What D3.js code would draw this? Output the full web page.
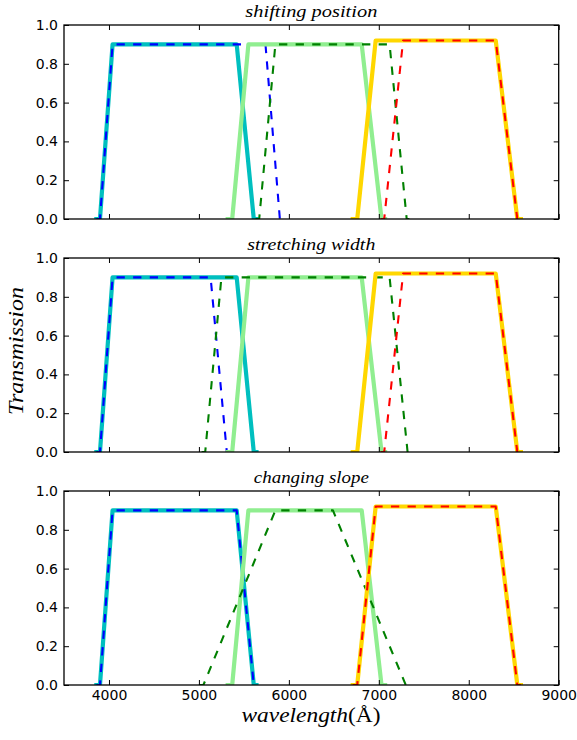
<!DOCTYPE html>
<html>
<head>
<meta charset="utf-8">
<script src="https://cdn.jsdelivr.net/npm/d3@7"></script>
<style>
  body { margin: 0; background: #fff; }
  svg { display: block; }
  .tick line { stroke: #000; stroke-width: 1; }
</style>
</head>
<body>
<svg width="577" height="740"></svg>
<script>
const panelTitles = ["shifting position", "stretching width", "changing slope"];
const xTicks = [4000, 5000, 6000, 7000, 8000, 9000];
const yTicks = [0, 0.2, 0.4, 0.6, 0.8, 1.0];

// reference filters (solid lines, same in every panel)
const blueRefWave = [3860, 3900, 4040, 5420, 5610, 5640];
const blueRefTrans = [0, 0, 0.9, 0.9, 0, 0];
const greenRefWave = [5320, 5370, 5550, 6810, 7030, 7070];
const greenRefTrans = [0, 0, 0.9, 0.9, 0, 0];
const redRefWave = [6710, 6760, 6965, 8300, 8540, 8580];
const redRefTrans = [0, 0, 0.92, 0.92, 0, 0];

// modified filters (dashed lines)
const shiftBlueWave = [3860, 3900, 4040, 5740, 5900, 5930];
const shiftGreenWave = [5630, 5670, 5850, 7120, 7310, 7340];
const shiftRedWave = [7020, 7060, 7270, 8300, 8540, 8580];
const stretchBlueWave = [3860, 3900, 4040, 5130, 5310, 5340];
const stretchGreenWave = [5030, 5070, 5250, 7120, 7320, 7350];
const stretchRedWave = [7020, 7060, 7270, 8300, 8540, 8580];
const slopeBlueWave = [3860, 3900, 4040, 5420, 5610, 5640];
const slopeGreenWave = [5000, 5050, 5850, 6490, 7300, 7350];
const slopeRedWave = [6710, 6760, 6965, 8300, 8540, 8580];

const dashedWaves = [
  [shiftBlueWave, shiftGreenWave, shiftRedWave],
  [stretchBlueWave, stretchGreenWave, stretchRedWave],
  [slopeBlueWave, slopeGreenWave, slopeRedWave]
];

const svg = d3.select("svg");
const left = 64, right = 558.7;
const panelTops = [25, 258, 491];
const panelH = 194;
const serif = "'Liberation Serif', 'Times New Roman', 'DejaVu Serif', serif";

const x = d3.scaleLinear().domain([3500, 9000]).range([left, right]);

function toPoints(wave, trans) {
  return wave.map((w, i) => [w, trans[i]]);
}

panelTitles.forEach((title, p) => {
  const top = panelTops[p];
  const y = d3.scaleLinear().domain([0, 1]).range([top + panelH, top]);
  const line = d3.line().x(d => x(d[0])).y(d => y(d[1]));

  svg.append("clipPath").attr("id", "clip" + p)
    .append("rect")
    .attr("x", left).attr("y", top)
    .attr("width", right - left).attr("height", panelH);

  const g = svg.append("g").attr("clip-path", `url(#clip${p})`);

  const [bw, gw, rw] = dashedWaves[p];
  const series = [
    { pts: toPoints(blueRefWave, blueRefTrans), color: "#00bfbf", w: 4.2, dash: null },
    { pts: toPoints(bw, blueRefTrans), color: "#0000ff", w: 2.1, dash: "8.3,8.3" },
    { pts: toPoints(greenRefWave, greenRefTrans), color: "#90ee90", w: 4.2, dash: null },
    { pts: toPoints(gw, greenRefTrans), color: "#008000", w: 2.1, dash: "8.3,8.3" },
    { pts: toPoints(redRefWave, redRefTrans), color: "#ffd700", w: 4.2, dash: null },
    { pts: toPoints(rw, redRefTrans), color: "#ff0000", w: 2.1, dash: "8.3,8.3" }
  ];

  g.selectAll("path")
    .data(series)
    .join("path")
    .attr("d", d => line(d.pts))
    .attr("fill", "none")
    .attr("stroke", d => d.color)
    .attr("stroke-width", d => d.w)
    .attr("stroke-linejoin", "round")
    .attr("stroke-linecap", d => d.dash ? "butt" : "square")
    .attr("stroke-dasharray", d => d.dash);

  // axes, ticks pointing inward
  const bottomAxis = d3.axisBottom(x).tickValues(xTicks).tickSize(-5).tickPadding(5)
    .tickFormat(p === 2 ? d3.format("d") : () => "");
  svg.append("g").attr("transform", `translate(0,${top + panelH})`).call(bottomAxis)
    .call(a => a.select(".domain").remove());

  svg.append("g").attr("transform", `translate(0,${top})`)
    .call(d3.axisTop(x).tickValues(xTicks).tickSize(-5).tickFormat(() => ""))
    .call(a => a.select(".domain").remove());

  svg.append("g").attr("transform", `translate(${left},0)`)
    .call(d3.axisLeft(y).tickValues(yTicks).tickSize(-5).tickPadding(6).tickFormat(d3.format(".1f")))
    .call(a => a.select(".domain").remove());

  svg.append("g").attr("transform", `translate(${right},0)`)
    .call(d3.axisRight(y).tickValues(yTicks).tickSize(-5).tickFormat(() => ""))
    .call(a => a.select(".domain").remove());

  svg.append("rect")
    .attr("x", left).attr("y", top)
    .attr("width", right - left).attr("height", panelH)
    .attr("fill", "none").attr("stroke", "#000").attr("stroke-width", 1.3);

  const titleWidths = [132, 128, 115];
  svg.append("text")
    .attr("x", (left + right) / 2)
    .attr("y", top - 8)
    .attr("text-anchor", "middle")
    .attr("font-family", serif)
    .attr("font-style", "italic")
    .attr("font-size", 17)
    .attr("textLength", titleWidths[p])
    .attr("lengthAdjust", "spacingAndGlyphs")
    .text(title);
});

svg.selectAll("g.tick text")
  .attr("font-family", "'DejaVu Sans', sans-serif")
  .attr("font-size", 14)
  .attr("fill", "#000");
svg.selectAll("g[font-family]").attr("font-family", "'DejaVu Sans', sans-serif").attr("font-size", 14);

svg.append("text")
  .attr("transform", "translate(23,351) rotate(-90)")
  .attr("text-anchor", "middle")
  .attr("font-family", serif)
  .attr("font-style", "italic")
  .attr("font-size", 21)
  .attr("textLength", 128)
  .attr("lengthAdjust", "spacingAndGlyphs")
  .text("Transmission");

const xl = svg.append("text")
  .attr("x", 311)
  .attr("y", 722)
  .attr("text-anchor", "middle")
  .attr("font-family", serif)
  .attr("font-size", 22)
  .attr("textLength", 139)
  .attr("lengthAdjust", "spacingAndGlyphs");
xl.append("tspan").attr("font-style", "italic").text("wavelength");
xl.append("tspan").text("(Å)");
</script>
</body>
</html>
